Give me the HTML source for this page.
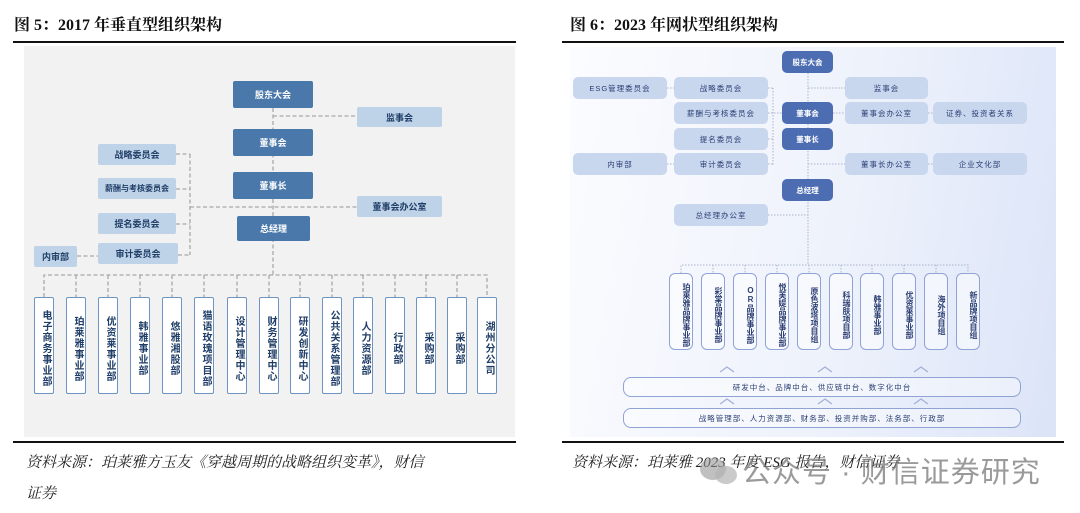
<!DOCTYPE html>
<html><head><meta charset="utf-8"><style>
*{margin:0;padding:0;box-sizing:border-box}
body{width:1080px;height:513px;background:#fff;position:relative;overflow:hidden;font-family:"Liberation Sans","Noto Sans CJK SC",sans-serif}
.a{position:absolute}
.t{font-family:"Liberation Serif","Noto Serif CJK SC",serif;font-weight:bold;font-size:16px;color:#111}
.cap{font-family:"Liberation Serif","Noto Serif CJK SC",serif;font-style:italic;font-size:15px;color:#222}
.b{position:absolute;display:flex;align-items:center;justify-content:center;text-align:center;white-space:nowrap}
.ld{background:#4a78aa;color:#fff;font-size:9px;font-weight:bold;border-radius:2px}
.ll{background:#bed3e8;color:#1f3d66;font-size:9px;font-weight:bold;border-radius:2px}
.lv{background:#fff;border:1.5px solid #6e94c4;color:#1f3d66;font-size:10px;font-weight:bold;writing-mode:vertical-rl;text-orientation:upright;align-items:flex-start;justify-content:center;padding-top:6px;letter-spacing:1px;border-radius:2px}
.rd{background:#4d6db3;color:#fff;font-size:7.5px;font-weight:bold;border-radius:5px}
.rl{background:#c8d6ee;color:#2b3f73;font-size:7.5px;border-radius:5px;letter-spacing:1px}
.rv{background:rgba(255,255,255,.5);border:1.3px solid #8fa3d4;color:#2b3f73;font-size:8px;font-weight:bold;writing-mode:vertical-rl;text-orientation:upright;align-items:flex-start;padding-top:6px;border-radius:6px}
.band{border:1.3px solid #8fa3d4;border-radius:8px;background:rgba(255,255,255,.4);color:#2b3f73;font-size:7.5px;letter-spacing:1px}
</style></head><body>
<div class="a t" style="left:14px;top:12px">图 5：2017 年垂直型组织架构</div>
<div class="a t" style="left:570px;top:12px">图 6：2023 年网状型组织架构</div>
<div class="a" style="left:13px;top:41px;width:503px;height:2px;background:#111"></div>
<div class="a" style="left:562px;top:41px;width:502px;height:2px;background:#111"></div>
<div class="a" style="left:24px;top:46px;width:491px;height:391px;background:#f2f2f2"></div>
<div class="a" style="left:570px;top:47px;width:486px;height:390px;background:linear-gradient(100deg,#fbfcff 0%,#eef2fb 55%,#dbe4f8 100%)"></div>
<div class="a" style="left:13px;top:441px;width:503px;height:2px;background:#111"></div>
<div class="a" style="left:562px;top:441px;width:502px;height:2px;background:#111"></div>
<div class="a cap" style="left:26px;top:448px;line-height:31px;width:480px">资料来源：珀莱雅方玉友《穿越周期的战略组织变革》，财信<br>证券</div>
<div class="a cap" style="left:572px;top:448px;line-height:31px">资料来源：珀莱雅 2023 年度 ESG 报告，财信证券</div>
<div class="a" style="left:742px;top:449px;font-size:29px;color:rgba(120,120,120,.75);letter-spacing:1px">公众号 · 财信证券研究</div>
<div class="a" style="left:700px;top:458px;width:26px;height:22px;border-radius:50%;background:rgba(150,150,150,.6)"></div>
<div class="a" style="left:715px;top:466px;width:22px;height:18px;border-radius:50%;background:rgba(180,180,180,.7)"></div>

<svg class="a" style="left:0;top:0" width="1080" height="513">
<g stroke="#a8a8a8" stroke-width="1.3" stroke-dasharray="4,2.5" fill="none">
<path d="M273 108V275M273 116H357M190 154V255M176 154H190M176 189H190M176 224H190M178 255H190M77 256H98M190 207H357"/>
<path d="M44 297V275H487V297M76 275V297M108 275V297M140 275V297M172 275V297M204 275V297M237 275V297M269 275V297M300 275V297M332 275V297M363 275V297M395 275V297M426 275V297M457 275V297"/>
</g>
<g stroke="#a9b4cc" stroke-width="1" stroke-dasharray="1.5,1.5" fill="none">
<path d="M808 73V265M808 88H845M773 88V165M768 88H773M768 113H782M768 139H773M768 164H773M667 88H674M667 164H674M833 113H845M928 113H933M808 164H845M928 164H933M768 215H808"/>
<path d="M681 273V265H968V273M713 265V273M745 265V273M777 265V273M809 265V273M841 265V273M872 265V273M904 265V273M936 265V273"/>
</g>
<g stroke="#9fb0d8" stroke-width="1.2" fill="none">
<path d="M720 372l7-5 7 5M818 372l7-5 7 5M914 372l7-5 7 5M720 404l7-5 7 5M818 404l7-5 7 5M914 404l7-5 7 5"/>
</g>
</svg>

<div class="b ld" style="left:233px;top:81px;width:80px;height:27px">股东大会</div>
<div class="b ll" style="left:357px;top:107px;width:85px;height:20px">监事会</div>
<div class="b ld" style="left:233px;top:129px;width:80px;height:27px">董事会</div>
<div class="b ld" style="left:233px;top:172px;width:80px;height:27px">董事长</div>
<div class="b ld" style="left:237px;top:216px;width:73px;height:25px">总经理</div>
<div class="b ll" style="left:98px;top:144px;width:78px;height:21px">战略委员会</div>
<div class="b ll" style="left:98px;top:178px;width:78px;height:21px;font-size:8px">薪酬与考核委员会</div>
<div class="b ll" style="left:98px;top:213px;width:78px;height:21px">提名委员会</div>
<div class="b ll" style="left:98px;top:243px;width:80px;height:21px">审计委员会</div>
<div class="b ll" style="left:34px;top:246px;width:43px;height:21px">内审部</div>
<div class="b ll" style="left:357px;top:196px;width:85px;height:21px">董事会办公室</div>

<div class="b lv" style="left:34px;top:297px;width:20px;height:97px">电子商务事业部</div>
<div class="b lv" style="left:66px;top:297px;width:20px;height:97px">珀莱雅事业部</div>
<div class="b lv" style="left:98px;top:297px;width:20px;height:97px">优资莱事业部</div>
<div class="b lv" style="left:130px;top:297px;width:20px;height:97px">韩雅事业部</div>
<div class="b lv" style="left:162px;top:297px;width:20px;height:97px">悠雅湘股部</div>
<div class="b lv" style="left:194px;top:297px;width:20px;height:97px">猫语玫瑰项目部</div>
<div class="b lv" style="left:227px;top:297px;width:20px;height:97px">设计管理中心</div>
<div class="b lv" style="left:259px;top:297px;width:20px;height:97px">财务管理中心</div>
<div class="b lv" style="left:290px;top:297px;width:20px;height:97px">研发创新中心</div>
<div class="b lv" style="left:322px;top:297px;width:20px;height:97px">公共关系管理部</div>
<div class="b lv" style="left:353px;top:297px;width:20px;height:97px">人力资源部</div>
<div class="b lv" style="left:385px;top:297px;width:20px;height:97px">行政部</div>
<div class="b lv" style="left:416px;top:297px;width:20px;height:97px">采购部</div>
<div class="b lv" style="left:447px;top:297px;width:20px;height:97px">采购部</div>
<div class="b lv" style="left:477px;top:297px;width:20px;height:97px">湖州分公司</div>

<div class="b rd" style="left:782px;top:51px;width:51px;height:22px">股东大会</div>
<div class="b rl" style="left:573px;top:77px;width:94px;height:22px">ESG管理委员会</div>
<div class="b rl" style="left:674px;top:77px;width:94px;height:22px">战略委员会</div>
<div class="b rl" style="left:845px;top:77px;width:83px;height:22px">监事会</div>
<div class="b rl" style="left:674px;top:102px;width:94px;height:22px">薪酬与考核委员会</div>
<div class="b rd" style="left:782px;top:102px;width:51px;height:22px">董事会</div>
<div class="b rl" style="left:845px;top:102px;width:83px;height:22px">董事会办公室</div>
<div class="b rl" style="left:933px;top:102px;width:94px;height:22px">证券、投资者关系</div>
<div class="b rl" style="left:674px;top:128px;width:94px;height:22px">提名委员会</div>
<div class="b rd" style="left:782px;top:128px;width:51px;height:22px">董事长</div>
<div class="b rl" style="left:573px;top:153px;width:94px;height:22px">内审部</div>
<div class="b rl" style="left:674px;top:153px;width:94px;height:22px">审计委员会</div>
<div class="b rl" style="left:845px;top:153px;width:83px;height:22px">董事长办公室</div>
<div class="b rl" style="left:933px;top:153px;width:94px;height:22px">企业文化部</div>
<div class="b rd" style="left:782px;top:179px;width:51px;height:22px">总经理</div>
<div class="b rl" style="left:674px;top:204px;width:94px;height:22px">总经理办公室</div>

<div class="b rv" style="left:669px;top:273px;width:24px;height:77px">珀莱雅品牌事业部</div>
<div class="b rv" style="left:701px;top:273px;width:24px;height:77px">彩棠品牌事业部</div>
<div class="b rv" style="left:733px;top:273px;width:24px;height:77px">OR品牌事业部</div>
<div class="b rv" style="left:765px;top:273px;width:24px;height:77px">悦芙媞品牌事业部</div>
<div class="b rv" style="left:797px;top:273px;width:24px;height:77px">原色波塔项目组</div>
<div class="b rv" style="left:829px;top:273px;width:24px;height:77px">科瑞肤项目部</div>
<div class="b rv" style="left:860px;top:273px;width:24px;height:77px">韩雅事业部</div>
<div class="b rv" style="left:892px;top:273px;width:24px;height:77px">优资莱事业部</div>
<div class="b rv" style="left:924px;top:273px;width:24px;height:77px">海外项目组</div>
<div class="b rv" style="left:956px;top:273px;width:24px;height:77px">新品牌项目组</div>

<div class="b band" style="left:623px;top:377px;width:398px;height:20px">研发中台、品牌中台、供应链中台、数字化中台</div>
<div class="b band" style="left:623px;top:408px;width:398px;height:20px">战略管理部、人力资源部、财务部、投资并购部、法务部、行政部</div>
</body></html>
